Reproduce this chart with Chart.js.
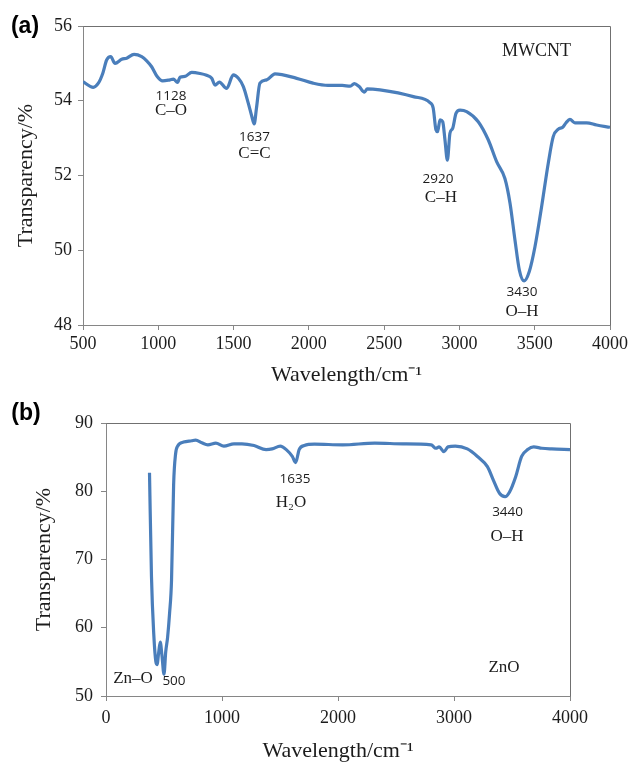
<!DOCTYPE html>
<html>
<head>
<meta charset="utf-8">
<title>FTIR spectra</title>
<script src="https://cdn.jsdelivr.net/npm/chart.js@4.4.1/dist/chart.umd.min.js"></script>
<style>
    html, body { margin: 0; padding: 0; background: #ffffff; }
    .panel { width: 632px; }
    canvas { display: block; }
</style>
</head>
<body>
<div class="panel"><canvas id="mwcntChart" width="632" height="390"></canvas></div>
<div class="panel"><canvas id="znoChart" width="632" height="374"></canvas></div>
<script>
// MWCNT spectrum (a)
const mwcntWavenumber = [500, 568, 602, 631, 657, 684, 713, 757, 790, 839,
    890, 923, 956, 994, 1029, 1078, 1100, 1128, 1144, 1177,
    1222, 1277, 1321, 1355, 1377, 1406, 1454, 1498, 1532, 1565,
    1598, 1620, 1637, 1652, 1675, 1720, 1775, 1919, 2028, 2127,
    2222, 2275, 2302, 2334, 2369, 2388, 2472, 2694, 2804, 2826,
    2844, 2855, 2871, 2889, 2904, 2920, 2937, 2955, 2977, 3004,
    3048, 3125, 3192, 3247, 3302, 3336, 3369, 3398, 3430, 3464,
    3502, 3546, 3590, 3623, 3657, 3686, 3708, 3734, 3767, 3845,
    3911, 4000];
const mwcntTransparency = [54.51, 54.36, 54.47, 54.73, 55.09, 55.18, 55.00, 55.11, 55.14, 55.24,
    55.18, 55.07, 54.91, 54.64, 54.53, 54.56, 54.58, 54.49, 54.63, 54.65,
    54.76, 54.73, 54.68, 54.60, 54.42, 54.50, 54.33, 54.69, 54.60, 54.38,
    53.93, 53.60, 53.38, 53.80, 54.47, 54.56, 54.72, 54.60, 54.47, 54.41,
    54.41, 54.39, 54.46, 54.38, 54.23, 54.32, 54.29, 54.11, 53.95, 53.80,
    53.22, 53.17, 53.49, 53.44, 52.95, 52.41, 53.13, 53.26, 53.66, 53.75,
    53.71, 53.44, 52.95, 52.37, 51.92, 51.26, 50.27, 49.47, 49.18, 49.43,
    50.10, 51.17, 52.33, 53.04, 53.24, 53.29, 53.41, 53.50, 53.41, 53.41,
    53.35, 53.29];

// ZnO spectrum (b)
const znoWavenumber = [375, 392, 412, 430, 440, 455, 468, 482, 500, 515,
    531, 548, 565, 583, 600, 617, 669, 739, 773, 826,
    878, 947, 1016, 1103, 1172, 1276, 1380, 1432, 1502, 1554,
    1606, 1635, 1665, 1710, 1797, 2040, 2317, 2560, 2803, 2844,
    2872, 2914, 2948, 3011, 3115, 3202, 3288, 3340, 3392, 3440,
    3479, 3531, 3583, 3635, 3687, 3757, 3843, 4000];
const znoTransparency = [82.7, 67.5, 59.0, 55.0, 54.6, 56.5, 57.9, 56.0, 53.2, 56.5,
    58.6, 62.1, 67.0, 81.0, 85.5, 86.6, 87.2, 87.4, 87.5, 87.1,
    86.8, 87.05, 86.6, 86.95, 86.95, 86.7, 86.1, 86.2, 86.6, 86.1,
    85.1, 84.2, 86.1, 86.7, 86.9, 86.8, 87.05, 86.95, 86.8, 86.3,
    86.5, 85.8, 86.5, 86.6, 86.2, 85.1, 83.6, 81.6, 79.7, 79.2,
    79.9, 82.1, 85.1, 86.1, 86.5, 86.3, 86.2, 86.1];

// Peak labels, placed in data units: [text, wavenumber, transparency, kind]
const mwcntNotes = [
    ['1128', 1084, 54.13, 'num'], ['C–O', 1084, 53.73, 'txt'],
    ['1637', 1639, 53.03, 'num'], ['C=C', 1639, 52.58, 'txt'],
    ['2920', 2858, 51.91, 'num'], ['C–H', 2877, 51.40, 'txt'],
    ['3430', 3415, 48.87, 'num'], ['O–H', 3415, 48.36, 'txt'],
    ['MWCNT', 3512, 55.33, 'big']
];
const znoNotes = [
    ['1635', 1629, 81.8, 'num'], ['H₂O', 1595, 78.4, 'txt'],
    ['3440', 3462, 77.0, 'num'], ['O–H', 3457, 73.3, 'txt'],
    ['Zn–O', 233, 52.5, 'txt'], ['500', 586, 52.2, 'num'],
    ['ZnO', 3431, 54.1, 'txt']
];

const SERIF = '"Liberation Serif", "Times New Roman", serif';
const SANS = '"Open Sans", "Liberation Sans", sans-serif';
const LINE_BLUE = '#4a7ebb';
const AXIS_GREY = '#868686';
const TEXT_COLOR = '#1c1c1c';

const noteFonts = {
    num: '13.5px ' + SANS,
    txt: '17px ' + SERIF,
    big: '18px ' + SERIF
};

// draws the plot frame, the peak labels and the panel letter
const peakNotes = {
    id: 'peakNotes',
    afterDraw(chart, args, opts) {
        const ctx = chart.ctx;
        const area = chart.chartArea;
        const xs = chart.scales.x;
        const ys = chart.scales.y;
        ctx.save();
        ctx.strokeStyle = '#707070';
        ctx.lineWidth = 1;
        ctx.beginPath();
        ctx.moveTo(Math.round(area.left) + 0.5, Math.round(area.top) + 0.5);
        ctx.lineTo(Math.round(area.right) + 0.5, Math.round(area.top) + 0.5);
        ctx.lineTo(Math.round(area.right) + 0.5, Math.round(area.bottom) + 0.5);
        ctx.stroke();

        ctx.fillStyle = TEXT_COLOR;
        ctx.textAlign = 'center';
        ctx.textBaseline = 'middle';
        (opts.notes || []).forEach(([text, wn, t, kind]) => {
            ctx.font = noteFonts[kind];
            ctx.fillText(text, xs.getPixelForValue(wn), ys.getPixelForValue(t));
        });

        if (opts.panel) {
            ctx.fillStyle = '#000000';
            ctx.font = 'bold 23px "Liberation Sans", Arial, sans-serif';
            ctx.fillText(opts.panel, opts.panelPos[0], opts.panelPos[1]);
        }
        ctx.restore();
    }
};

function buildSpectrum(canvasId, cfg) {
    const points = cfg.wn.map((w, i) => ({ x: w, y: cfg.t[i] }));
    return new Chart(document.getElementById(canvasId).getContext('2d'), {
        type: 'line',
        data: {
            datasets: [{
                data: points,
                borderColor: LINE_BLUE,
                borderWidth: 3.2,
                pointRadius: 0,
                fill: false,
                cubicInterpolationMode: 'monotone'
            }]
        },
        options: {
            responsive: false,
            animation: false,
            devicePixelRatio: 1,
            layout: { padding: cfg.padding },
            plugins: {
                legend: { display: false },
                tooltip: { enabled: false },
                peakNotes: { notes: cfg.notes, panel: cfg.panel, panelPos: cfg.panelPos }
            },
            scales: {
                x: {
                    type: 'linear',
                    min: cfg.xRange[0],
                    max: cfg.xRange[1],
                    afterFit: (scale) => { scale.height = cfg.xAxisHeight; },
                    border: { color: AXIS_GREY, width: 1 },
                    grid: { drawOnChartArea: false, drawTicks: true, tickLength: 5, color: AXIS_GREY },
                    ticks: {
                        stepSize: cfg.xStep,
                        padding: cfg.xTickPad,
                        maxRotation: 0,
                        color: TEXT_COLOR,
                        font: { family: SERIF, size: 18 },
                        callback: (value) => String(value)
                    },
                    title: {
                        display: true,
                        text: 'Wavelength/cm⁻¹',
                        color: TEXT_COLOR,
                        font: { family: SERIF, size: 22 },
                        padding: { top: 0, bottom: cfg.xTitlePad }
                    }
                },
                y: {
                    min: cfg.yRange[0],
                    max: cfg.yRange[1],
                    afterFit: (scale) => { scale.width = cfg.yAxisWidth; },
                    border: { color: AXIS_GREY, width: 1 },
                    grid: { drawOnChartArea: false, drawTicks: true, tickLength: 5, color: AXIS_GREY },
                    ticks: {
                        stepSize: cfg.yStep,
                        padding: cfg.yTickPad,
                        color: TEXT_COLOR,
                        font: { family: SERIF, size: 18 },
                        callback: (value) => String(value)
                    },
                    title: {
                        display: true,
                        text: 'Transparency/%',
                        color: TEXT_COLOR,
                        font: { family: SERIF, size: 22 },
                        padding: { top: cfg.yTitlePad, bottom: 0 }
                    }
                }
            }
        },
        plugins: [peakNotes]
    });
}

document.addEventListener('DOMContentLoaded', function() {
    try {
        buildSpectrum('mwcntChart', {
            wn: mwcntWavenumber, t: mwcntTransparency, notes: mwcntNotes,
            panel: '(a)', panelPos: [25, 27],
            xRange: [500, 4000], xStep: 500, yRange: [48, 56], yStep: 2,
            padding: { top: 26, right: 22, left: 0, bottom: 0 },
            xAxisHeight: 65, yAxisWidth: 83,
            xTickPad: 3, yTickPad: 6, xTitlePad: 2, yTitlePad: 13
        });
        buildSpectrum('znoChart', {
            wn: znoWavenumber, t: znoTransparency, notes: znoNotes,
            panel: '(b)', panelPos: [26, 24],
            xRange: [0, 4000], xStep: 1000, yRange: [50, 90], yStep: 10,
            padding: { top: 33, right: 62, left: 0, bottom: 0 },
            xAxisHeight: 68, yAxisWidth: 106,
            xTickPad: 6, yTickPad: 8, xTitlePad: 0, yTitlePad: 31
        });
    } catch (error) {
        console.error('Error building spectra:', error);
    }
});
</script>
</body>
</html>
